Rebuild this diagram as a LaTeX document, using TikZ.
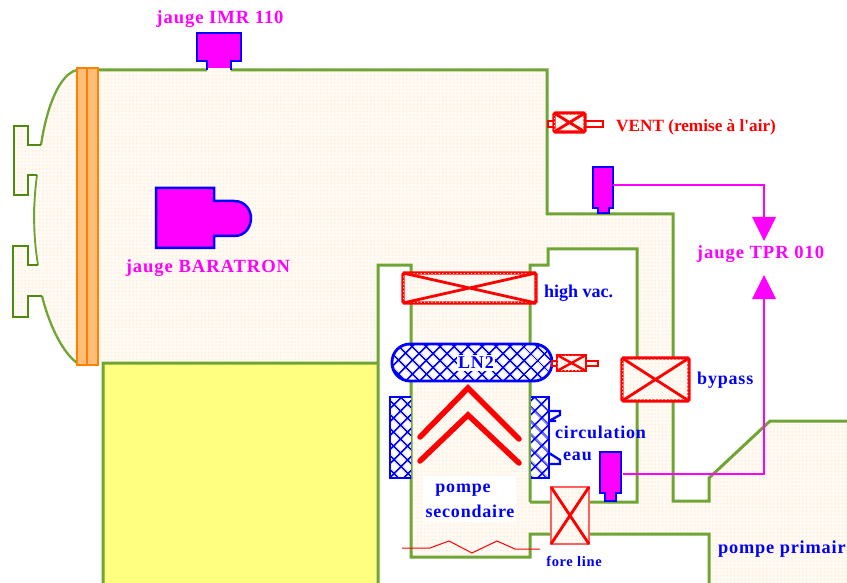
\documentclass[tikz,border=0pt]{standalone}
\usepackage{fontspec}
\setmainfont{Liberation Serif}
\newfontfamily\lab[LetterSpace=5]{Liberation Serif}
\newfontfamily\blab[LetterSpace=4.5]{Liberation Serif}
\newfontfamily\rlab{Liberation Serif}
\usetikzlibrary{patterns.meta}
\definecolor{wallg}{HTML}{6FA535}
\definecolor{darkg}{HTML}{4C8A10}
\definecolor{bgfill}{HTML}{FFFAF3}
\definecolor{dotc}{HTML}{FFEBD3}
\definecolor{yell}{HTML}{FFFF80}
\definecolor{flangef}{HTML}{FFBE78}
\definecolor{flanged}{HTML}{FF8000}
\definecolor{mag}{HTML}{FF00FF}
\definecolor{bl}{HTML}{0000FF}
\definecolor{rd}{HTML}{FF0000}
\definecolor{lred}{HTML}{FF6060}
\tikzset{
  wall/.style={draw=wallg,line width=3pt,line join=miter},
  dwall/.style={draw=darkg,line width=2.8pt},
  dotfill/.style={pattern={Dots[distance=3.6pt,radius=0.75pt]},pattern color=dotc},
  gauge/.style={draw=bl,fill=mag,line width=2.5pt,line join=miter},
  hatchbox/.style={draw=bl,line width=2.8pt,fill=white,postaction={pattern={Hatch[angle=45,distance=10.5pt,line width=1.9pt]},pattern color=bl}},
  valve/.style={draw=rd,line width=3.4pt,rounded corners=1.5pt,fill=bgfill,postaction={dotfill}},
  cross/.style={draw=rd,line width=2.8pt},
  chev/.style={draw=rd,line width=5.5pt,line cap=round,line join=miter},
  mline/.style={draw=mag,line width=2.8pt},
  mtext/.style={text=mag,font=\lab\bfseries\fontsize{18.6}{20}\selectfont,inner sep=0pt,yshift=-2pt},
  btext/.style={text=bl,font=\blab\bfseries\fontsize{18}{20}\selectfont,inner sep=0pt,yshift=-2pt},
  rtext/.style={text=rd,font=\rlab\bfseries\fontsize{17.2}{20}\selectfont,inner sep=0pt,yshift=-2pt},
}
\begin{document}
\begin{tikzpicture}[x=1pt,y=-1pt]
\useasboundingbox (0,0) rectangle (847,583);
\clip (0,0) rectangle (847,583);
% body fill
\def\body{(77,70) -- (547,70) -- (547,214) -- (673,214) -- (673,501) -- (709,501) -- (709,478) -- (770,421) -- (847,421) -- (847,583) -- (709,583) -- (709,534) -- (530,534) -- (530,557) -- (411,557) -- (411,265) -- (378,265) -- (378,363) -- (77,363)
 .. controls (60,350) and (48,320) .. (42,296) -- (28,296) -- (28,317) -- (13,317) -- (13,246) -- (28,246) -- (28,265) -- (38,265)
 .. controls (33,235) and (33,205) .. (37,175) -- (28,175) -- (28,195) -- (14,195) -- (14,126) -- (28,126) -- (28,145) -- (41,145)
 .. controls (47,105) and (60,74) .. (77,70) -- cycle
 (530,265) -- (530,502) -- (637,502) -- (637,249) -- (548,249) -- (548,265) -- cycle}
\fill[bgfill,even odd rule] \body;
\path[dotfill,even odd rule] \body;
% yellow
\path[fill=yell] (103,363) rectangle (378,583);
% walls
\draw[wall] (99,70) -- (207,70) (231,70) -- (547,70) -- (547,214) -- (673,214) -- (673,501) -- (709,501) -- (709,478) -- (770,421) -- (847,421)
 (709,583) -- (709,534) -- (530,534) -- (530,557) -- (411,557) -- (411,265) -- (378,265) -- (378,583)
 (103,583) -- (103,363) -- (378,363)
 (530,502) -- (530,265) -- (548,265) -- (548,249) -- (637,249) -- (637,502) -- (530,502);
\draw[wall,line width=2.3pt] (77,70) .. controls (60,74) and (47,105) .. (41,145);
\draw[wall,line width=2.3pt] (42,296) .. controls (48,320) and (60,350) .. (77,363);
\draw[wall,line width=1.9pt] (37,175) .. controls (33,205) and (33,235) .. (38,265);
\draw[wall,line width=1.9pt] (34,207) -- (34,223);
\draw[dwall] (41,145) -- (28,145) -- (28,126) -- (14,126) -- (14,195) -- (28,195) -- (28,175) -- (37,175);
\draw[dwall] (38,265) -- (28,265) -- (28,246) -- (13,246) -- (13,317) -- (28,317) -- (28,296) -- (42,296);
% flange
\draw[draw=flanged,fill=flangef,line width=2.2pt] (77,68) rectangle (98,365);
\draw[draw=flanged,line width=2.2pt] (87,68) -- (87,365);
% gauges
\draw[gauge] (197,33) -- (241,33) -- (241,61) -- (231,61) -- (231,69) -- (207,69) -- (207,61) -- (197,61) -- cycle;
\fill[bgfill] (208,68) rectangle (230,71.5);
\draw[gauge] (156,188) -- (214,188) -- (214,201) -- (234,201) .. controls (246,201) and (251,211) .. (251,218) .. controls (251,226) and (246,236) .. (234,236) -- (214,236) -- (214,248) -- (156,248) -- cycle;
\node[mtext] (imr) at (220,17) {jauge IMR 110};
\node[mtext] (bara) at (208,266) {jauge BARATRON};
% vent valve
\draw[draw=rd,fill=bgfill,line width=2.5pt] (548,121) rectangle (603,127);
\draw[valve] (554,113) rectangle (585,132);
\draw[cross] (554,113) -- (585,132) (554,132) -- (585,113);
\node[rtext,anchor=west] (vent) at (616,125) {VENT (remise à l'air)};
% TPR gauges
\coordinate (tprtop) at (764,218);
\coordinate (tprbot) at (764,298);
\draw[gauge] (593,167) -- (613,167) -- (613,208) -- (609,208) -- (609,213) -- (598,213) -- (598,208) -- (593,208) -- cycle;
\draw[gauge] (600,452) -- (621,452) -- (621,493) -- (616,493) -- (616,501) -- (605,501) -- (605,493) -- (600,493) -- cycle;
\draw[mline] (613,185) -- (764,185) -- (tprtop);
\draw[mline] (623,474) -- (764,474) -- (tprbot);
\fill[mag] (752,217) -- (776,217) -- (764,241) -- cycle;
\fill[mag] (752,299) -- (776,299) -- (764,275) -- cycle;
\node[mtext] (tpr) at (760.5,252) {jauge TPR 010};
% high vac valve
\draw[valve] (403,273) rectangle (536,303);
\draw[cross] (403,273) -- (536,303) (403,303) -- (536,273);
\node[btext,font=\rlab\bfseries\fontsize{18}{20}\selectfont,anchor=west] (hv) at (544,291) {high vac.};
% LN2
\draw[hatchbox,rounded corners=18pt] (392,344) rectangle (552,381);
\node[btext,fill=white,inner xsep=1.5pt,inner ysep=2.5pt] (ln2) at (476,361) {LN2};
\draw[draw=rd,fill=bgfill,line width=2.2pt] (552,361) rectangle (598,366);
\draw[draw=rd,line width=2.4pt,fill=bgfill,postaction={dotfill}] (557,355) rectangle (586,371);
\draw[draw=rd,line width=2.4pt] (557,355) -- (586,371) (557,371) -- (586,355);
% jackets
\draw[hatchbox] (411,397) -- (390,397) -- (390,478) -- (411,478);
\draw[draw=bl,line width=2.3pt,fill=white] (549,411) -- (560,411) -- (560,415) -- (549,421) -- (556,421);
\draw[draw=bl,line width=2.3pt,fill=white] (549,453) -- (560,460) -- (560,464) -- (549,464);
\draw[hatchbox] (531,397) -- (549,397) -- (549,478) -- (531,478);
% chevrons
\draw[chev] (420,437) -- (468,388) -- (519,439);
\draw[chev] (420,461) -- (468,415) -- (519,463);
% labels
\fill[white] (423,476) rectangle (516,522);
\node[btext] (pompe) at (463,488) {pompe};
\node[btext] (sec) at (470,509.5) {secondaire};
\node[btext,anchor=west] (circ) at (555,430.5) {circulation};
\node[btext,anchor=west] (eau) at (563,454) {eau};
\node[btext,anchor=west] (by) at (697,378.5) {bypass};
\node[btext,font=\blab\bfseries\fontsize{18.3}{20}\selectfont,anchor=west] (pp) at (718,547) {pompe primair};
% zigzag
\draw[draw=rd,line width=1pt] (402,548) -- (430,548) -- (449,541) -- (472,553) -- (497,541) -- (515,549) -- (540,549);
% fore line valve
\fill[bgfill] (551,487) rectangle (589,544);
\path[dotfill] (551,487) rectangle (589,544);
\draw[draw=lred,line width=1.4pt] (551,487) rectangle (589,544);
\draw[cross] (551,487) -- (589,544) (551,544) -- (589,487);
\node[text=bl,font=\blab\bfseries\fontsize{14.5}{16}\selectfont,inner sep=0pt] (fore) at (574,561) {fore line};
% bypass
\draw[valve] (622,358) rectangle (689,401);
\draw[cross] (622,358) -- (689,401) (622,401) -- (689,358);
\end{tikzpicture}
\end{document}
